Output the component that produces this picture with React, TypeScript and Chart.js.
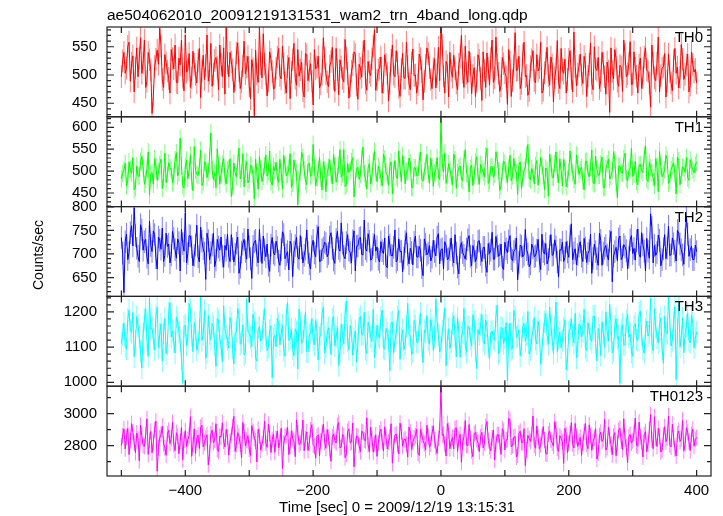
import React, { useEffect, useRef } from "react";
import { Chart, registerables } from "chart.js";

Chart.register(...registerables);

const TITLE = "ae504062010_20091219131531_wam2_trn_4band_long.qdp";
const X_TITLE = "Time [sec] 0 = 2009/12/19 13:15:31";
const Y_TITLE = "Counts/sec";

const PANEL_NAMES = ["TH0", "TH1", "TH2", "TH3", "TH0123"];
const PANEL_COLORS = ["#ff0000", "#00ff00", "#0000ff", "#00ffff", "#ff00ff"];
const ERR_COLORS = ["rgba(255,0,0,0.5)", "rgba(0,255,0,0.5)", "rgba(0,0,255,0.5)", "rgba(0,255,255,0.5)", "rgba(255,0,255,0.5)"];
const Y_MIN = [426, 419, 610, 989, 2610];
const Y_MAX = [585, 624, 800.5, 1244, 3172];
const Y_MAJOR = [50, 50, 50, 100, 200];
const Y_MINOR = [10, 10, 10, 20, 100];
// typical 1-sigma error of each point, per panel (counts/sec)
const Y_ERR = [20, 20, 24, 32, 50];

const X_MIN = -522.5;
const X_MAX = 422.5;
const X_LABEL_STEP = 200;
const X_TICK_STEP = 100;

// samples: "even" arrays at t = -500, -496, ...; "odd" arrays at t = -498, -494, ...
const T_START = -500;
const T_STEP = 4;

const TH0 = [
  497, 540, 512, 558, 521, 470, 548, 530, 503, 562, 489, 527, 432, 515, 544, 583, 492, 536, 507, 468,
  529, 553, 486, 518, 496, 571, 510, 478, 542, 501, 525, 460, 535, 517, 489, 556, 502, 531, 474, 519,
  548, 584, 497, 523, 469, 539, 508, 488, 560, 514, 481, 527, 428, 502, 584, 495, 519, 463, 541, 506,
  477, 532, 499, 551, 486, 515, 458, 527, 494, 545, 509, 472, 538, 490, 520, 447, 511, 533, 484, 566,
  502, 479, 524, 493, 547, 465, 514, 488, 530, 459, 507, 541, 482, 519, 496, 562, 473, 505, 528, 580,
  491, 512, 468, 536, 503, 485, 553, 497, 521, 462, 538, 494, 515, 474, 546, 500, 483, 529, 456, 517,
  538, 492, 511, 477, 549, 584, 498, 524, 461, 507, 535, 486, 519, 570, 478, 503, 542, 467, 513, 489,
  526, 455, 508, 539, 482, 562, 495, 518, 471, 531, 504, 448, 523, 490, 575, 509, 476, 536, 497, 464,
  515, 543, 486, 507, 558, 473, 521, 499, 532, 452, 511, 487, 547, 503, 468, 528, 494, 576, 481, 516,
  500, 533, 462, 519, 485, 550, 508, 476, 540, 497, 523, 434, 506, 545, 489, 517, 471, 537, 502, 559,
  484, 512, 468, 530, 495, 548, 506, 443, 521, 490, 567, 499, 515, 461, 537, 486, 525, 503, 477, 554,
  492, 518, 470, 541, 505, 486,
];
const TH0_ODD = [
  525, 503, 551, 489, 534, 512, 497, 566, 521, 478, 540, 509, 463, 528, 519, 551, 478, 522, 494, 545,
  511, 487, 530, 562, 472, 505, 538, 495, 519, 486, 547, 508, 492, 571, 503, 480, 526, 514, 553, 497,
  466, 521, 540, 509, 492, 557, 476, 516, 502, 533, 458, 511, 544, 487, 520, 573, 501, 489, 528, 475,
  512, 547, 493, 520, 468, 531, 505, 556, 482, 498, 523, 461, 536, 507, 489, 545, 514, 477, 502, 530,
  488, 516, 549, 471, 509, 527, 494, 563, 503, 481, 518, 536, 457, 512, 540, 486, 524, 499, 551, 473,
  509, 532, 487, 519, 454, 526, 501, 543, 478, 510, 495, 558, 484, 521, 499, 468, 537, 506, 489, 548,
  513, 476, 529, 502, 490, 553, 468, 517, 540, 496, 511, 474, 532, 505, 551, 487, 520, 499, 462, 536,
  494, 541, 478, 512, 529, 487, 567, 503, 481, 520, 497, 545, 462, 516, 508, 533, 485, 558, 499, 472,
  527, 490, 536, 513, 468, 504, 549, 482, 518, 495, 561, 476, 509, 528, 492, 543, 470, 515, 502, 537,
  485, 519, 498, 556, 474, 511, 531, 490, 521, 466, 507, 548, 493, 529, 480, 514, 562, 497, 520, 483,
  541, 498, 517, 476, 532, 509, 486, 553, 495, 521, 470, 512, 538, 489, 506, 472, 547, 514, 496, 528,
  501, 537, 482, 519, 510,
];

const TH1 = [
  482, 503, 466, 521, 495, 457, 512, 488, 534, 470, 506, 445, 497, 528, 479, 515, 460, 541, 492, 508,
  473, 526, 489, 575, 467, 511, 483, 537, 455, 502, 490, 548, 474, 519, 498, 587, 481, 462, 513, 493,
  529, 471, 506, 442, 518, 487, 553, 495, 464, 522, 480, 509, 436, 497, 533, 476, 512, 489, 546, 468,
  501, 485, 527, 459, 514, 493, 540, 472, 506, 423, 498, 531, 477, 516, 488, 561, 466, 503, 484, 521,
  453, 509, 492, 538, 475, 513, 486, 549, 469, 497, 522, 441, 505, 481, 530, 494, 459, 517, 488, 545,
  476, 502, 467, 528, 491, 511, 448, 524, 483, 506, 535, 471, 498, 519, 462, 507, 489, 543, 477, 512,
  494, 529, 465, 503, 486, 624, 499, 472, 517, 488, 539, 461, 508, 482, 526, 495, 452, 514, 490, 533,
  470, 505, 487, 552, 478, 511, 493, 527, 456, 499, 518, 474, 536, 489, 503, 447, 521, 484, 509, 561,
  480, 496, 513, 468, 531, 490, 507, 443, 519, 485, 544, 473, 502, 526, 464, 498, 515, 481, 537, 492,
  509, 457, 523, 487, 548, 471, 504, 491, 532, 463, 517, 482, 501, 526, 439, 512, 495, 541, 478, 506,
  488, 522, 469, 515, 497, 558, 476, 508, 485, 529, 453, 511, 494, 536, 472, 503, 519, 448, 524, 490,
  507, 531, 479, 512, 496, 520,
];
const TH1_ODD = [
  495, 518, 478, 504, 531, 462, 489, 522, 507, 481, 544, 493, 470, 512, 499, 527, 486, 474, 519, 503,
  488, 542, 497, 513, 461, 525, 501, 478, 556, 492, 509, 467, 521, 485, 532, 503, 496, 551, 470, 516,
  487, 503, 528, 465, 497, 519, 482, 540, 506, 473, 514, 492, 527, 459, 505, 488, 537, 499, 476, 511,
  520, 474, 498, 536, 489, 507, 463, 525, 496, 480, 543, 503, 469, 518, 492, 509, 484, 531, 457, 504,
  497, 526, 471, 512, 488, 549, 494, 465, 517, 502, 531, 478, 509, 492, 555, 483, 507, 471, 523, 496,
  512, 484, 539, 497, 468, 521, 503, 487, 546, 476, 514, 499, 530, 463, 508, 490, 524, 481, 500, 538,
  472, 508, 496, 531, 481, 517, 541, 489, 503, 469, 526, 497, 512, 478, 549, 493, 506, 467, 521, 488,
  515, 498, 535, 472, 510, 486, 544, 501, 467, 523, 492, 507, 478, 529, 496, 514, 460, 502, 537, 484,
  506, 471, 524, 495, 512, 458, 501, 539, 486, 517, 493, 528, 466, 509, 481, 546, 497, 470, 515, 503,
  479, 522, 496, 508, 473, 534, 490, 516, 462, 505, 527, 488, 543, 474, 511, 497, 529, 483, 501, 552,
  493, 476, 514, 501, 537, 482, 520, 496, 467, 511, 545, 487, 503, 526, 478, 512, 494, 532, 469, 509,
  497, 485, 526, 503, 514,
];

const TH2 = [
  735, 618, 742, 703, 760, 798, 712, 684, 751, 726, 693, 770, 705, 741, 668, 729, 755, 697, 716, 681,
  748, 709, 732, 664, 722, 787, 701, 738, 675, 719, 694, 757, 711, 646, 728, 703, 744, 687, 715, 736,
  672, 708, 695, 741, 683, 723, 659, 704, 731, 689, 715, 648, 726, 697, 752, 680, 709, 721, 663, 735,
  698, 714, 676, 747, 690, 705, 727, 652, 718, 693, 739, 681, 710, 703, 668, 729, 694, 758, 685, 713,
  722, 701, 745, 687, 731, 712, 766, 695, 724, 708, 681, 749, 716, 733, 699, 772, 706, 727, 689, 741,
  715, 683, 707, 734, 671, 719, 696, 751, 688, 705, 662, 726, 699, 712, 677, 738, 693, 708, 654, 721,
  702, 685, 729, 696, 743, 709, 668, 717, 690, 734, 681, 702, 658, 724, 697, 711, 739, 675, 706, 693,
  728, 684, 714, 661, 701, 746, 689, 717, 698, 672, 725, 703, 739, 686, 710, 645, 719, 694, 752, 700,
  679, 713, 696, 731, 667, 705, 722, 688, 741, 699, 715, 651, 708, 684, 726, 693, 764, 702, 677, 716,
  695, 733, 682, 707, 659, 721, 690, 744, 676, 712, 698, 727, 641, 705, 686, 738, 694, 715, 669, 730,
  701, 687, 753, 693, 719, 664, 706, 785, 681, 697, 740, 675, 711, 690, 759, 698, 722, 685, 744, 709,
  678, 780, 695, 716, 688, 705,
];
const TH2_ODD = [
  702, 726, 688, 745, 717, 739, 695, 762, 708, 731, 679, 718, 749, 692, 736, 710, 684, 744, 721, 698,
  733, 691, 724, 752, 706, 681, 739, 715, 697, 761, 683, 727, 702, 744, 688, 719, 673, 731, 708, 695,
  718, 742, 684, 711, 699, 736, 672, 721, 705, 753, 690, 716, 729, 681, 707, 738, 694, 676, 719, 702,
  727, 685, 709, 741, 698, 666, 720, 704, 735, 689, 713, 697, 751, 679, 716, 702, 738, 684, 709, 725,
  694, 736, 712, 680, 748, 706, 723, 690, 741, 703, 728, 664, 717, 735, 698, 711, 743, 687, 720, 706,
  689, 726, 701, 675, 738, 697, 714, 683, 732, 706, 691, 745, 679, 703, 725, 694, 716, 671, 732, 698,
  718, 693, 705, 736, 679, 711, 726, 688, 709, 697, 741, 672, 714, 703, 689, 730, 695, 718, 684, 727,
  699, 714, 676, 722, 708, 689, 737, 695, 721, 667, 711, 728, 690, 705, 734, 682, 716, 698, 709, 673,
  721, 694, 708, 685, 742, 700, 679, 716, 697, 730, 683, 709, 725, 692, 704, 738, 688, 711, 699, 726,
  684, 713, 701, 742, 691, 705, 676, 729, 702, 718, 687, 748, 696, 714, 732, 688, 720, 707, 693, 739,
  712, 728, 699, 745, 706, 733, 691, 756, 718, 703, 729, 688, 741, 712, 697, 734, 706, 750, 721, 698,
  731, 742, 709, 688, 719,
];

const TH3 = [
  1110, 1168, 1095, 1205, 1142, 1073, 1187, 1126, 1041, 1178, 1119, 1240, 1154, 1092, 1213, 1137, 1060, 1181, 1108, 1226,
  1146, 1083, 1172, 1118, 998, 1163, 1129, 1205, 1087, 1150, 1112, 1242, 1136, 1069, 1190, 1121, 1158, 1045, 1175, 1103,
  1218, 1131, 1097, 1166, 1052, 1144, 1193, 1115, 1078, 1235, 1139, 1102, 1171, 1060, 1157, 1124, 1209, 1090, 1148, 1013,
  1133, 1182, 1107, 1162, 1074, 1227, 1125, 1096, 1152, 1038, 1169, 1115, 1200, 1086, 1143, 1120, 1176, 1063, 1137, 1213,
  1101, 1155, 1079, 1188, 1129, 1048, 1165, 1110, 1231, 1093, 1147, 1122, 1059, 1179, 1135, 1199, 1082, 1158, 1116, 1071,
  1162, 1127, 1205, 1094, 1140, 1033, 1171, 1118, 1186, 1065, 1149, 1106, 1224, 1131, 1087, 1160, 1113, 1195, 1056, 1142,
  1120, 1178, 1091, 1237, 1135, 1099, 1166, 1047, 1152, 1114, 1189, 1072, 1143, 1128, 1210, 1085, 1157, 1104, 1173, 1039,
  1136, 1192, 1109, 1161, 1068, 1146, 1119, 1219, 1088, 1153, 1126, 1004, 1168, 1097, 1184, 1132, 1075, 1158, 1117, 1201,
  1093, 1147, 1121, 1174, 1051, 1139, 1196, 1108, 1163, 1082, 1228, 1125, 1098, 1155, 1036, 1142, 1180, 1111, 1069, 1166,
  1129, 1207, 1090, 1151, 1116, 1188, 1061, 1134, 1172, 1100, 1145, 1221, 1083, 1159, 1123, 997, 1164, 1106, 1193, 1138,
  1074, 1167, 1118, 1202, 1095, 1149, 1131, 1238, 1089, 1156, 1112, 1183, 1054, 1141, 1242, 1103, 1170, 1008, 1225, 1127,
  1084, 1160, 1119, 1190, 1098, 1143,
];
const TH3_ODD = [
  1135, 1102, 1179, 1147, 1198, 1116, 1162, 1089, 1137, 1209, 1074, 1151, 1124, 1188, 1098, 1166, 1140, 1081, 1197, 1129,
  1115, 1186, 1143, 1066, 1158, 1105, 1224, 1132, 1170, 1091, 1148, 1119, 1203, 1085, 1138, 1167, 1107, 1181, 1126, 1058,
  1152, 1121, 1184, 1097, 1139, 1210, 1108, 1163, 1084, 1145, 1128, 1193, 1069, 1154, 1117, 1176, 1135, 1099, 1161, 1124,
  1101, 1166, 1138, 1092, 1191, 1119, 1150, 1076, 1143, 1208, 1112, 1159, 1087, 1134, 1181, 1106, 1149, 1127, 1195, 1083,
  1140, 1122, 1178, 1104, 1155, 1089, 1133, 1196, 1118, 1161, 1077, 1146, 1110, 1187, 1136, 1094, 1171, 1129, 1207, 1113,
  1131, 1182, 1098, 1153, 1117, 1169, 1084, 1140, 1204, 1125, 1093, 1158, 1137, 1079, 1176, 1114, 1163, 1102, 1148, 1189,
  1108, 1154, 1127, 1173, 1086, 1145, 1211, 1120, 1096, 1167, 1132, 1183, 1071, 1141, 1105, 1159, 1124, 1192, 1088, 1150,
  1163, 1118, 1177, 1099, 1142, 1125, 1188, 1082, 1156, 1111, 1170, 1134, 1093, 1205, 1128, 1149, 1102, 1167, 1136, 1080,
  1127, 1184, 1109, 1147, 1095, 1172, 1136, 1214, 1121, 1156, 1087, 1143, 1119, 1178, 1064, 1152, 1133, 1196, 1104, 1161,
  1145, 1098, 1169, 1124, 1187, 1110, 1153, 1076, 1139, 1200, 1117, 1165, 1092, 1181, 1130, 1148, 1106, 1174, 1128, 1086,
  1158, 1121, 1196, 1135, 1083, 1174, 1142, 1112, 1209, 1126, 1165, 1094, 1187, 1138, 1176, 1119, 1215, 1147, 1101, 1182,
  1139, 1197, 1112, 1168, 1125,
];

const TH0123 = [
  2800, 2905, 2852, 2744, 2938, 2816, 2879, 2705, 2861, 2795, 2968, 2832, 2756, 2899, 2640, 2848, 2921, 2787, 2874, 2813,
  2945, 2769, 2857, 2826, 2712, 2893, 2838, 2981, 2802, 2751, 2866, 2914, 2793, 2845, 2680, 2872, 2819, 2937, 2763, 2854,
  2828, 2901, 2741, 2869, 2983, 2808, 2856, 2723, 2887, 2834, 2778, 2925, 2846, 2698, 2863, 2811, 2952, 2789, 2876, 2837,
  2759, 2892, 2821, 2657, 2858, 2913, 2796, 2845, 2731, 2880, 2817, 2960, 2842, 2770, 2898, 2805, 2721, 2867, 2829, 2935,
  2783, 2851, 2702, 2873, 2816, 2944, 2792, 2859, 2748, 2905, 2823, 2668, 2861, 2799, 2889, 2836, 2975, 2764, 2846, 2812,
  2733, 2879, 2825, 2918, 2780, 2853, 2690, 2866, 2807, 2940, 2796, 2843, 2728, 2884, 2819, 2862, 2754, 2901, 2832, 2773,
  2858, 2811, 2924, 2789, 2847, 3172, 2870, 2735, 2894, 2826, 2779, 2912, 2841, 2696, 2856, 2803, 2932, 2768, 2875, 2838,
  2762, 2883, 2815, 2951, 2794, 2848, 2710, 2869, 2822, 2906, 2773, 2839, 2957, 2801, 2857, 2743, 2890, 2818, 2676, 2864,
  2827, 2986, 2784, 2852, 2806, 2919, 2750, 2873, 2835, 2797, 2903, 2762, 2846, 2689, 2868, 2813, 2944, 2785, 2858, 2824,
  2739, 2887, 2808, 2930, 2771, 2849, 2716, 2862, 2826, 2965, 2790, 2855, 2742, 2881, 2817, 2909, 2776, 2843, 2693, 2870,
  2831, 2972, 2795, 2856, 2729, 2888, 2812, 2994, 2781, 2847, 2908, 2760, 2865, 2824, 2985, 2792, 2853, 2736, 2892, 2841,
  2768, 2912, 2825, 2870, 2797, 2851,
];
const TH0123_ODD = [
  2862, 2779, 2908, 2831, 2884, 2756, 2843, 2927, 2801, 2866, 2745, 2889, 2820, 2953, 2787, 2871, 2812, 2740, 2896, 2845,
  2808, 2881, 2749, 2914, 2836, 2795, 2862, 2733, 2905, 2847, 2782, 2928, 2819, 2868, 2752, 2897, 2834, 2776, 2859, 2943,
  2791, 2856, 2827, 2918, 2764, 2881, 2810, 2945, 2798, 2863, 2739, 2887, 2829, 2902, 2772, 2848, 2816, 2934, 2757, 2873,
  2843, 2787, 2909, 2815, 2864, 2744, 2893, 2828, 2961, 2806, 2851, 2768, 2886, 2813, 2931, 2795, 2858, 2736, 2879, 2820,
  2901, 2774, 2855, 2832, 2926, 2786, 2869, 2725, 2890, 2817, 2941, 2803, 2857, 2762, 2884, 2829, 2806, 2915, 2759, 2868,
  2815, 2904, 2766, 2852, 2822, 2937, 2795, 2873, 2748, 2889, 2834, 2808, 2916, 2777, 2849, 2903, 2739, 2865, 2812, 2928,
  2790, 2876, 2833, 2751, 2895, 2864, 2808, 2938, 2781, 2850, 2906, 2764, 2871, 2821, 2957, 2799, 2846, 2731, 2884, 2818,
  2855, 2786, 2920, 2832, 2768, 2898, 2815, 2867, 2745, 2889, 2836, 2971, 2792, 2853, 2729, 2877, 2821, 2906, 2773, 2843,
  2870, 2802, 2924, 2778, 2857, 2835, 2748, 2893, 2817, 2950, 2784, 2862, 2826, 2908, 2757, 2874, 2811, 2939, 2795, 2851,
  2818, 2939, 2781, 2864, 2827, 2906, 2754, 2883, 2840, 2772, 2915, 2809, 2858, 2737, 2896, 2828, 2968, 2790, 2855, 2816,
  2879, 2803, 2947, 2821, 2868, 2762, 2899, 2836, 2981, 2795, 2860, 2772, 2918, 2848, 2806, 2934, 2779, 2872, 2826, 2958,
  2811, 2884, 2769, 2903, 2838,
];

const SERIES_EVEN = [TH0, TH1, TH2, TH3, TH0123];
const SERIES_ODD = [TH0_ODD, TH1_ODD, TH2_ODD, TH3_ODD, TH0123_ODD];

const FONT = '"Liberation Sans", Arial, Helvetica, sans-serif';

function buildPoints(even: number[], odd: number[]) {
  const pts: { x: number; y: number }[] = [];
  for (let i = 0; i < even.length; i++) {
    pts.push({ x: T_START + i * T_STEP, y: even[i] });
    if (i < odd.length) pts.push({ x: T_START + i * T_STEP + T_STEP / 2, y: odd[i] });
  }
  return pts;
}

const framePlugin = {
  id: "qdpFrames",
  beforeDatasetsDraw(chart: any) {
    // light error bars, positioned through the chart's scales
    const ctx = chart.ctx;
    const area = chart.chartArea;
    const xs = chart.scales.x;
    ctx.save();
    ctx.beginPath();
    ctx.rect(area.left, area.top, area.right - area.left, area.bottom - area.top);
    ctx.clip();
    ctx.lineWidth = 1;
    chart.data.datasets.forEach((ds: any, k: number) => {
      const ys = chart.scales["y" + k];
      ctx.strokeStyle = ERR_COLORS[k];
      ctx.beginPath();
      for (const p of ds.data) {
        const px = xs.getPixelForValue(p.x);
        const lo = Math.max(Y_MIN[k], p.y - Y_ERR[k]);
        const hi = Math.min(Y_MAX[k], p.y + Y_ERR[k]);
        ctx.moveTo(px, ys.getPixelForValue(lo));
        ctx.lineTo(px, ys.getPixelForValue(hi));
      }
      ctx.stroke();
    });
    ctx.restore();
  },
  afterDatasetsDraw(chart: any) {
    const ctx = chart.ctx;
    const area = chart.chartArea;
    const xs = chart.scales.x;
    ctx.save();
    ctx.strokeStyle = "#222";
    ctx.lineWidth = 1.2;
    for (let k = 0; k < PANEL_NAMES.length; k++) {
      const ys = chart.scales["y" + k];
      const top = ys.top;
      const bottom = ys.bottom;
      ctx.strokeRect(area.left, top, area.right - area.left, bottom - top);
      ctx.beginPath();
      const firstX = Math.ceil(X_MIN / X_TICK_STEP) * X_TICK_STEP;
      for (let v = firstX; v <= X_MAX; v += X_TICK_STEP) {
        const px = xs.getPixelForValue(v);
        ctx.moveTo(px, top);
        ctx.lineTo(px, top + 6);
        ctx.moveTo(px, bottom);
        ctx.lineTo(px, bottom - 6);
      }
      const minor = Y_MINOR[k];
      const major = Y_MAJOR[k];
      const firstY = Math.ceil(Y_MIN[k] / minor) * minor;
      for (let v = firstY; v <= Y_MAX[k]; v += minor) {
        const py = ys.getPixelForValue(v);
        const len = Math.abs(v / major - Math.round(v / major)) < 1e-6 ? 7 : 4;
        ctx.moveTo(area.left, py);
        ctx.lineTo(area.left + len, py);
        ctx.moveTo(area.right, py);
        ctx.lineTo(area.right - len, py);
      }
      ctx.stroke();
    }
    ctx.restore();
  },
  afterDraw(chart: any) {
    const ctx = chart.ctx;
    const area = chart.chartArea;
    ctx.save();
    ctx.fillStyle = "#000";
    ctx.font = "15.5px " + FONT;
    ctx.textAlign = "left";
    ctx.textBaseline = "alphabetic";
    ctx.fillText(TITLE, area.left, 20);
    ctx.font = "15px " + FONT;
    ctx.textAlign = "right";
    for (let k = 0; k < PANEL_NAMES.length; k++) {
      const ys = chart.scales["y" + k];
      ctx.fillText(PANEL_NAMES[k], area.right - 8, ys.top + 15);
    }
    ctx.textAlign = "center";
    ctx.fillText(X_TITLE, 397, 512);
    ctx.translate(43, 255);
    ctx.rotate(-Math.PI / 2);
    ctx.font = "14px " + FONT;
    ctx.fillText(Y_TITLE, 0, 0);
    ctx.restore();
  },
};

function majorTicks(min: number, max: number, step: number) {
  const out: { value: number }[] = [];
  for (let v = Math.ceil(min / step) * step; v <= max + 1e-9; v += step) out.push({ value: v });
  return out;
}

export default function App() {
  const canvasRef = useRef<HTMLCanvasElement | null>(null);

  useEffect(() => {
    const canvas = canvasRef.current;
    if (!canvas) return;
    Chart.defaults.font.family = FONT;

    const datasets = SERIES_EVEN.map((even, k) => ({
      label: PANEL_NAMES[k],
      data: buildPoints(even, SERIES_ODD[k]),
      borderColor: PANEL_COLORS[k],
      borderWidth: 1,
      pointRadius: 0,
      fill: false,
      tension: 0,
      yAxisID: "y" + k,
    }));

    const scales: any = {
      x: {
        type: "linear",
        position: "bottom",
        min: X_MIN,
        max: X_MAX,
        grid: { display: false, drawTicks: false },
        border: { display: false },
        afterBuildTicks: (s: any) => {
          s.ticks = majorTicks(X_MIN, X_MAX, X_LABEL_STEP);
        },
        ticks: {
          autoSkip: false,
          maxRotation: 0,
          padding: 6,
          color: "#000",
          font: { size: 15, family: FONT },
          callback: (v: any) => (Number(v) < 0 ? "\u2212" + Math.abs(Number(v)) : String(v)),
        },
        afterFit: (s: any) => {
          s.height = 40;
        },
      },
    };
    for (let k = PANEL_NAMES.length - 1; k >= 0; k--) {
      scales["y" + k] = {
        type: "linear",
        position: "left",
        stack: "panels",
        stackWeight: 1,
        offset: false,
        min: Y_MIN[k],
        max: Y_MAX[k],
        grid: { display: false, drawTicks: false },
        border: { display: false },
        afterBuildTicks: (s: any) => {
          s.ticks = majorTicks(Y_MIN[k], Y_MAX[k], Y_MAJOR[k]);
        },
        ticks: {
          autoSkip: false,
          padding: 10,
          color: "#000",
          font: { size: 15, family: FONT },
          callback: (v: any) => String(v),
        },
        afterFit: (s: any) => {
          s.width = 107;
        },
      };
    }

    const chart = new Chart(canvas, {
      type: "line",
      data: { datasets },
      options: {
        animation: false,
        responsive: false,
        maintainAspectRatio: false,
        layout: { padding: { left: 0, top: 27, right: 12, bottom: 0 } },
        plugins: {
          legend: { display: false },
          title: { display: false },
          tooltip: { enabled: false },
        },
        scales,
      },
      plugins: [framePlugin],
    } as any);

    return () => chart.destroy();
  }, []);

  return (
    <div style={{ position: "fixed", left: 0, top: 0, width: 723, height: 516, background: "#fff" }}>
      <canvas ref={canvasRef} width={723} height={516} style={{ width: 723, height: 516 }} />
    </div>
  );
}
